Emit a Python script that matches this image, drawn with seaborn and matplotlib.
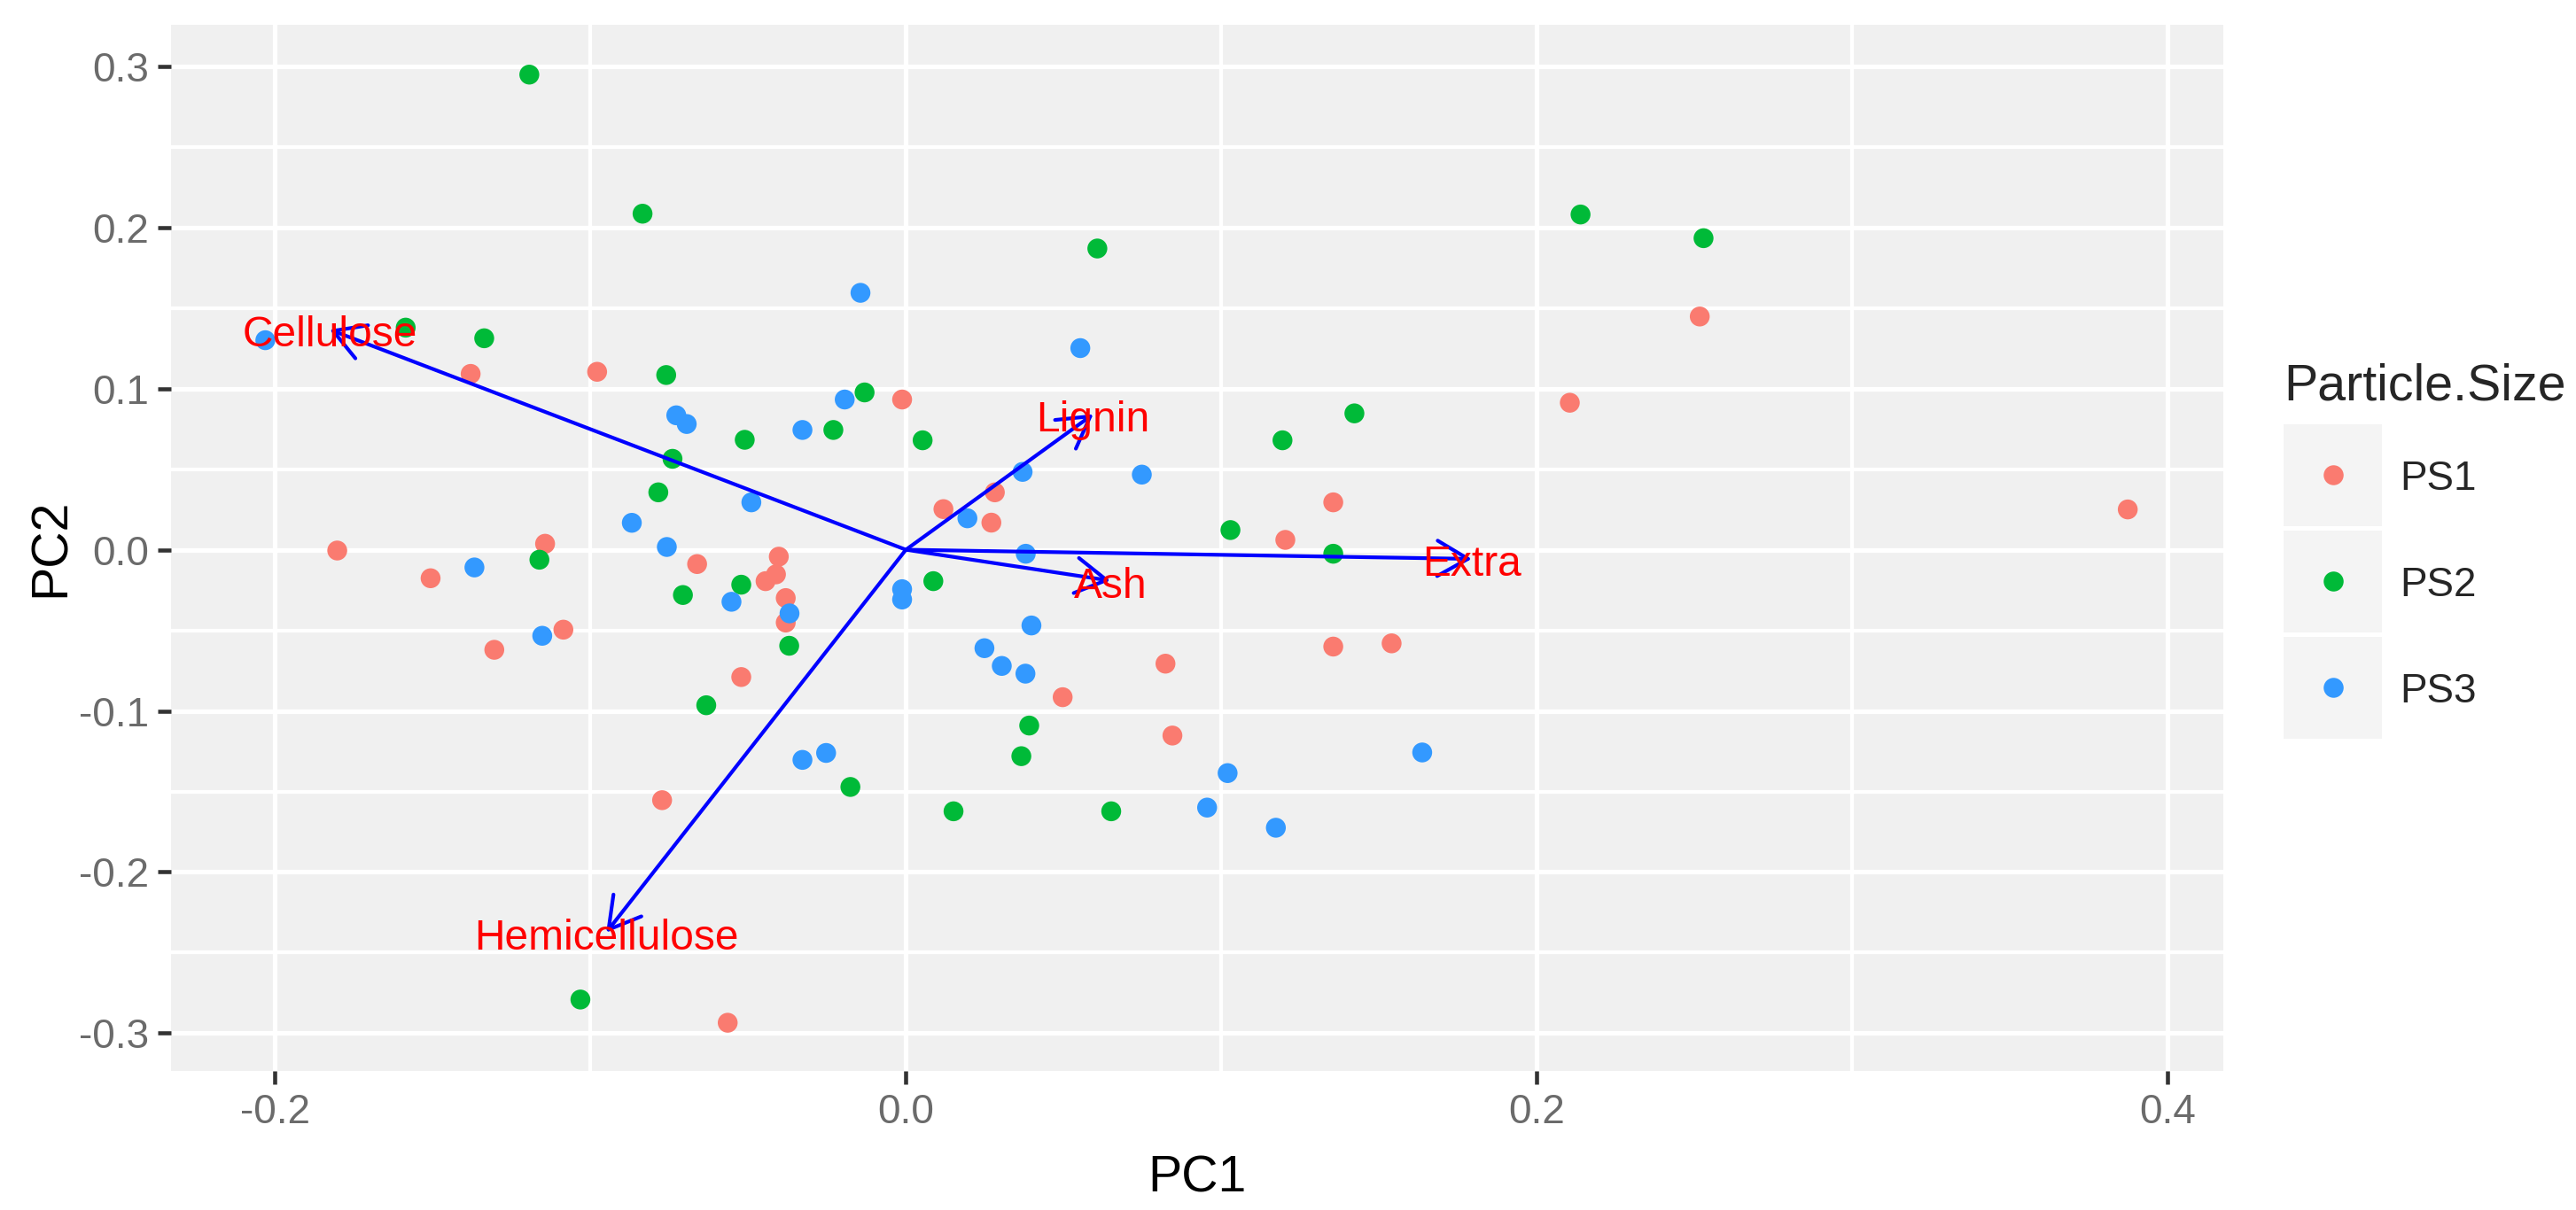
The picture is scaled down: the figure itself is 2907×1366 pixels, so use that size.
import pandas as pd
import matplotlib.pyplot as plt
import seaborn as sns
from matplotlib.lines import Line2D
from matplotlib.patches import Rectangle, ArrowStyle

# PCA scores
ps1_pc1 = [-0.1803, -0.1144, -0.1380, -0.0979, -0.1507, -0.0662, -0.0403, -0.0412, -0.0445, -0.0381,
           -0.0381, -0.1086, -0.1305, -0.0522, -0.0773, -0.0565, -0.0012, 0.2105, 0.2517, 0.0282,
           0.0119, 0.0271, 0.1355, 0.1203, 0.0823, 0.1355, 0.1540, 0.0497, 0.0845, 0.3874]
ps1_pc2 = [-0.0005, 0.0037, 0.1091, 0.1104, -0.0177, -0.0089, -0.0043, -0.0153, -0.0195, -0.0300,
           -0.0452, -0.0496, -0.0621, -0.0790, -0.1554, -0.2935, 0.0932, 0.0912, 0.1447, 0.0356,
           0.0252, 0.0168, 0.0294, 0.0061, -0.0707, -0.0601, -0.0581, -0.0915, -0.1153, 0.0250]

ps2_pc1 = [-0.1194, -0.0835, -0.1586, -0.1337, -0.0760, -0.0131, -0.0230, -0.0511, -0.0740, -0.0785,
           -0.1162, -0.0522, -0.0707, -0.0370, -0.0633, -0.0176, -0.1032, 0.0607, 0.2139, 0.2529,
           0.1422, 0.1194, 0.0053, 0.1029, 0.1355, 0.0087, 0.0391, 0.0366, 0.0151, 0.0651]
ps2_pc2 = [0.2948, 0.2085, 0.1378, 0.1312, 0.1084, 0.0976, 0.0743, 0.0682, 0.0564, 0.0356,
           -0.0062, -0.0217, -0.0281, -0.0596, -0.0965, -0.1472, -0.2791, 0.1869, 0.2080, 0.1933,
           0.0846, 0.0679, 0.0679, 0.0122, -0.0025, -0.0195, -0.1091, -0.1281, -0.1623, -0.1623]

ps3_pc1 = [-0.0144, -0.2031, -0.0194, -0.0728, -0.0695, -0.0328, -0.0490, -0.0869, -0.0758, -0.1368,
           -0.0553, -0.0369, -0.1153, -0.0328, -0.0253, 0.0553, 0.0370, 0.0748, 0.0195, 0.0380,
           -0.0012, -0.0012, 0.0398, 0.0249, 0.0304, 0.0379, 0.1637, 0.1020, 0.0955, 0.1173]
ps3_pc2 = [0.1594, 0.1300, 0.0932, 0.0834, 0.0780, 0.0743, 0.0294, 0.0167, 0.0017, -0.0110,
           -0.0323, -0.0395, -0.0534, -0.1304, -0.1261, 0.1251, 0.0483, 0.0466, 0.0195, -0.0025,
           -0.0245, -0.0309, -0.0470, -0.0611, -0.0721, -0.0769, -0.1258, -0.1386, -0.1600, -0.1725]

groups = ['PS1', 'PS2', 'PS3']
colors = ['#FA7B70', '#00BA38', '#3399FF']

# loadings (arrow tips)
load_names = ['Cellulose', 'Hemicellulose', 'Lignin', 'Ash', 'Extra']
load_pc1 = [-0.1827, -0.0950, 0.0594, 0.0648, 0.1794]
load_pc2 = [0.1366, -0.2375, 0.0841, -0.0192, -0.0057]

x_ticks = [-0.2, 0.0, 0.2, 0.4]
y_ticks = [-0.3, -0.2, -0.1, 0.0, 0.1, 0.2, 0.3]

scores = pd.concat([
    pd.DataFrame({'PC1': ps1_pc1, 'PC2': ps1_pc2, 'Particle.Size': 'PS1'}),
    pd.DataFrame({'PC1': ps2_pc1, 'PC2': ps2_pc2, 'Particle.Size': 'PS2'}),
    pd.DataFrame({'PC1': ps3_pc1, 'PC2': ps3_pc2, 'Particle.Size': 'PS3'}),
], ignore_index=True)

sns.set_style('darkgrid')
plt.rcParams['font.family'] = ['Liberation Sans', 'DejaVu Sans']
plt.rcParams['axes.unicode_minus'] = False

W, H = 2907, 1366
fig = plt.figure(figsize=(W / 300, H / 300), dpi=300)
ax = fig.add_axes([193 / W, 1 - 1209 / H, (2509 - 193) / W, (1209 - 28) / H])
ax.set_facecolor('#F0F0F0')

sns.scatterplot(data=scores, x='PC1', y='PC2', hue='Particle.Size', hue_order=groups,
                palette=colors, s=29, linewidth=0, legend=False, ax=ax, zorder=3)

arrow = ArrowStyle('->', head_length=0.83, head_width=0.48)
for name, px, py in zip(load_names, load_pc1, load_pc2):
    ax.annotate('', xy=(px, py), xytext=(0, 0),
                arrowprops=dict(arrowstyle=arrow, color='blue', lw=1.0,
                                shrinkA=0, shrinkB=0, mutation_scale=10),
                zorder=4)
    ax.annotate(name, xy=(px, py), xytext=(0, -1.6), textcoords='offset points',
                ha='center', va='center', color='red', fontsize=11.5, zorder=5)

ax.set_xlim(-0.233, 0.4177)
ax.set_ylim(-0.3234, 0.3257)
ax.set_xticks(x_ticks)
ax.set_yticks(y_ticks)
ax.set_xticklabels([f'{v:.1f}' for v in x_ticks])
ax.set_yticklabels([f'{v:.1f}' for v in y_ticks])
ax.set_xticks([-0.1, 0.1, 0.3], minor=True)
ax.set_yticks([-0.25, -0.15, -0.05, 0.05, 0.15, 0.25], minor=True)
ax.grid(which='major', color='white', lw=1.25)
ax.grid(which='minor', color='white', lw=1.0)
ax.set_axisbelow(True)
for sp in ax.spines.values():
    sp.set_visible(False)
ax.tick_params(which='major', length=3.5, width=1.1, color='#333333', pad=2.5,
               labelsize=11, labelcolor='#6B6B6B', bottom=True, left=True)
ax.tick_params(which='minor', length=0, bottom=False, left=False)

ax.set_xlabel('PC1', fontsize=13.75, color='black')
ax.set_ylabel('PC2', fontsize=13.75, color='black')
ax.xaxis.set_label_coords(0.5, (1209 - 1345) / (1209 - 28))
ax.xaxis.label.set_verticalalignment('baseline')
ax.yaxis.set_label_coords((73 - 193) / (2509 - 193), 0.5)
ax.yaxis.label.set_verticalalignment('baseline')

# legend, drawn by hand to get the grey key boxes
def fx(p):
    return p / W

def fy(p):
    return 1 - p / H

fig.text(fx(2577), fy(451), 'Particle.Size', fontsize=13.75, ha='left', va='baseline')
for i, (g, c) in enumerate(zip(groups, colors)):
    top = 479 + i * 120
    fig.add_artist(Rectangle((fx(2577), fy(top + 115)), fx(111), 115 / H,
                             transform=fig.transFigure, facecolor='#F4F4F4', edgecolor='none'))
    fig.add_artist(Line2D([fx(2633)], [fy(top + 57)], marker='o', ms=5.4, color=c,
                          markeredgewidth=0, transform=fig.transFigure))
    fig.text(fx(2708), fy(top + 57), g, fontsize=11, ha='left', va='center_baseline')

fig.savefig('out.png', dpi=300, facecolor='white')
